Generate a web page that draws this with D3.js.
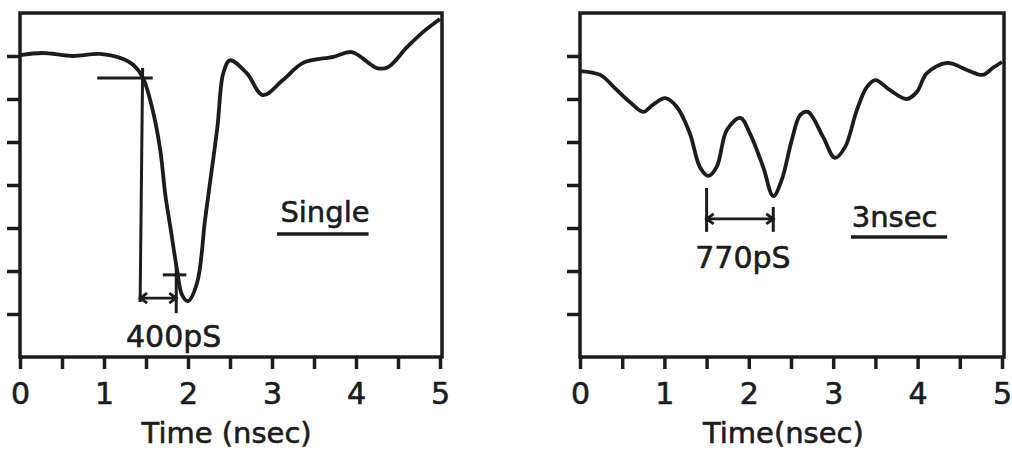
<!DOCTYPE html>
<html>
<head>
<meta charset="utf-8">
<script src="https://cdn.jsdelivr.net/npm/d3@7"></script>
<style>
body { margin: 0; background: #fff; }
text { font-family: "DejaVu Sans", sans-serif; fill: #1c1c1c; stroke: #1c1c1c; stroke-width: 0.6px; }
</style>
</head>
<body>
<svg width="1012" height="456"></svg>
<script>
// time axis ticks (nsec) and amplitude ticks (arbitrary units)
var xTicks = [0, 0.5, 1, 1.5, 2, 2.5, 3, 3.5, 4, 4.5, 5];
var yTicks = [1, 2, 3, 4, 5, 6, 7];

// single pulse trace
var singleT = [0, 0.27, 0.63, 0.95, 1.23, 1.35, 1.46, 1.58, 1.67, 1.73, 1.79, 1.87, 1.93, 2.0, 2.11, 2.2, 2.25, 2.35, 2.42, 2.5, 2.7, 2.89, 3.13, 3.37, 3.73, 3.95, 4.25, 4.38, 4.61, 4.8, 5.0];
var singleV = [7.02, 7.07, 7.0, 7.05, 6.93, 6.79, 6.51, 5.74, 4.81, 3.77, 3.02, 2.02, 1.44, 1.3, 1.74, 3.14, 3.88, 5.35, 6.6, 6.9, 6.6, 6.09, 6.44, 6.84, 6.98, 7.09, 6.72, 6.74, 7.21, 7.56, 7.86];

// 3 nsec trace
var nsecT = [0, 0.24, 0.41, 0.59, 0.75, 0.86, 1.01, 1.15, 1.3, 1.42, 1.52, 1.62, 1.74, 1.9, 2.01, 2.17, 2.29, 2.39, 2.51, 2.61, 2.7, 2.88, 3.02, 3.14, 3.28, 3.4, 3.5, 3.67, 3.87, 3.99, 4.11, 4.35, 4.59, 4.77, 4.89, 5.0];
var nsecV = [6.65, 6.56, 6.26, 5.93, 5.7, 5.86, 6.02, 5.81, 5.21, 4.42, 4.21, 4.42, 5.28, 5.56, 5.21, 4.42, 3.74, 4.12, 5.05, 5.63, 5.7, 5.12, 4.63, 4.88, 5.74, 6.28, 6.44, 6.21, 6.0, 6.16, 6.6, 6.84, 6.67, 6.56, 6.72, 6.86];

// annotation marks in data units: [t1, v1, t2, v2]
var singleMarks = [[0.92, 6.49, 1.58, 6.49], [1.46, 6.72, 1.43, 1.28], [1.86, 2.19, 1.86, 1.02], [1.70, 1.91, 1.98, 1.91]];
var singleArrow = [1.43, 1.86, 1.37];
var nsecMarks = [[1.5, 3.93, 1.5, 2.91], [2.29, 3.49, 2.29, 2.91]];
var nsecArrow = [1.5, 2.29, 3.21];

var svg = d3.select("svg");
var ink = "#1c1c1c";

function drawPanel(p) {
    var x = d3.scaleLinear().domain([0, 5]).range([p.left, p.right]),
        y = d3.scaleLinear().domain([0, 8]).range([357, 13]);

    var g = svg.append("g");

    g.append("rect")
        .attr("x", p.left)
        .attr("y", y(8))
        .attr("width", p.right - p.left + 2)
        .attr("height", y(0) - y(8))
        .attr("fill", "none")
        .attr("stroke", ink)
        .attr("stroke-width", 3.5);

    var xa = g.append("g")
        .attr("transform", "translate(0," + y(0) + ")")
        .call(d3.axisBottom(x).tickValues(xTicks).tickSize(12).tickPadding(14)
            .tickFormat(function(d) { return Number.isInteger(d) ? d : ""; }));
    xa.select(".domain").remove();
    xa.selectAll("line").attr("stroke", ink).attr("stroke-width", 3.5);
    xa.selectAll("text").style("font-size", "30px").attr("fill", ink);

    var ya = g.append("g")
        .attr("transform", "translate(" + p.left + ",0)")
        .call(d3.axisLeft(y).tickValues(yTicks).tickSize(13).tickFormat(""));
    ya.select(".domain").remove();
    ya.selectAll("line").attr("stroke", ink).attr("stroke-width", 3.5);

    var line = d3.line()
        .x(function(d) { return x(d[0]); })
        .y(function(d) { return y(d[1]); })
        .curve(d3.curveCatmullRom.alpha(0.5));

    g.append("path")
        .datum(d3.zip(p.t, p.v))
        .attr("d", line)
        .attr("fill", "none")
        .attr("stroke", ink)
        .attr("stroke-width", 3.8)
        .attr("stroke-linejoin", "round");

    g.selectAll(".mark")
        .data(p.marks)
        .enter().append("line")
            .attr("class", "mark")
            .attr("x1", function(d) { return x(d[0]); })
            .attr("y1", function(d) { return y(d[1]); })
            .attr("x2", function(d) { return x(d[2]); })
            .attr("y2", function(d) { return y(d[3]); })
            .attr("stroke", ink)
            .attr("stroke-width", 3);

    var a = p.arrow, ax1 = x(a[0]), ax2 = x(a[1]), ay = y(a[2]);
    g.append("path")
        .attr("d", "M" + ax1 + "," + ay + "H" + ax2 +
            "M" + (ax1 + 7) + "," + (ay - 5) + "L" + ax1 + "," + ay + "L" + (ax1 + 7) + "," + (ay + 5) +
            "M" + (ax2 - 7) + "," + (ay - 5) + "L" + ax2 + "," + ay + "L" + (ax2 - 7) + "," + (ay + 5))
        .attr("fill", "none")
        .attr("stroke", ink)
        .attr("stroke-width", 2.8);

    g.append("text")
        .attr("x", x(p.widthLabel[0]))
        .attr("y", y(p.widthLabel[1]))
        .attr("text-anchor", "middle")
        .style("font-size", "30px")
        .text(p.widthLabel[2]);

    g.append("text")
        .attr("x", x(p.name[0]))
        .attr("y", y(p.name[1]))
        .style("font-size", "29px")
        .text(p.name[2]);

    g.append("line")
        .attr("x1", x(p.under[0]))
        .attr("x2", x(p.under[1]))
        .attr("y1", y(p.under[2]))
        .attr("y2", y(p.under[2]))
        .attr("stroke", ink)
        .attr("stroke-width", 3.5);

    g.append("text")
        .attr("x", x(p.titleAt))
        .attr("y", 443)
        .attr("text-anchor", "middle")
        .style("font-size", "29px")
        .text(p.title);
}

drawPanel({
    left: 20, right: 440,
    t: singleT, v: singleV,
    marks: singleMarks, arrow: singleArrow,
    widthLabel: [1.83, 0.23, "400pS"],
    name: [3.1, 3.14, "Single"],
    under: [3.06, 4.15, 2.86],
    titleAt: 2.46, title: "Time (nsec)"
});

drawPanel({
    left: 580, right: 1002,
    t: nsecT, v: nsecV,
    marks: nsecMarks, arrow: nsecArrow,
    widthLabel: [1.93, 2.07, "770pS"],
    name: [3.22, 3.02, "3nsec"],
    under: [3.21, 4.35, 2.79],
    titleAt: 2.41, title: "Time(nsec)"
});
</script>
</body>
</html>
